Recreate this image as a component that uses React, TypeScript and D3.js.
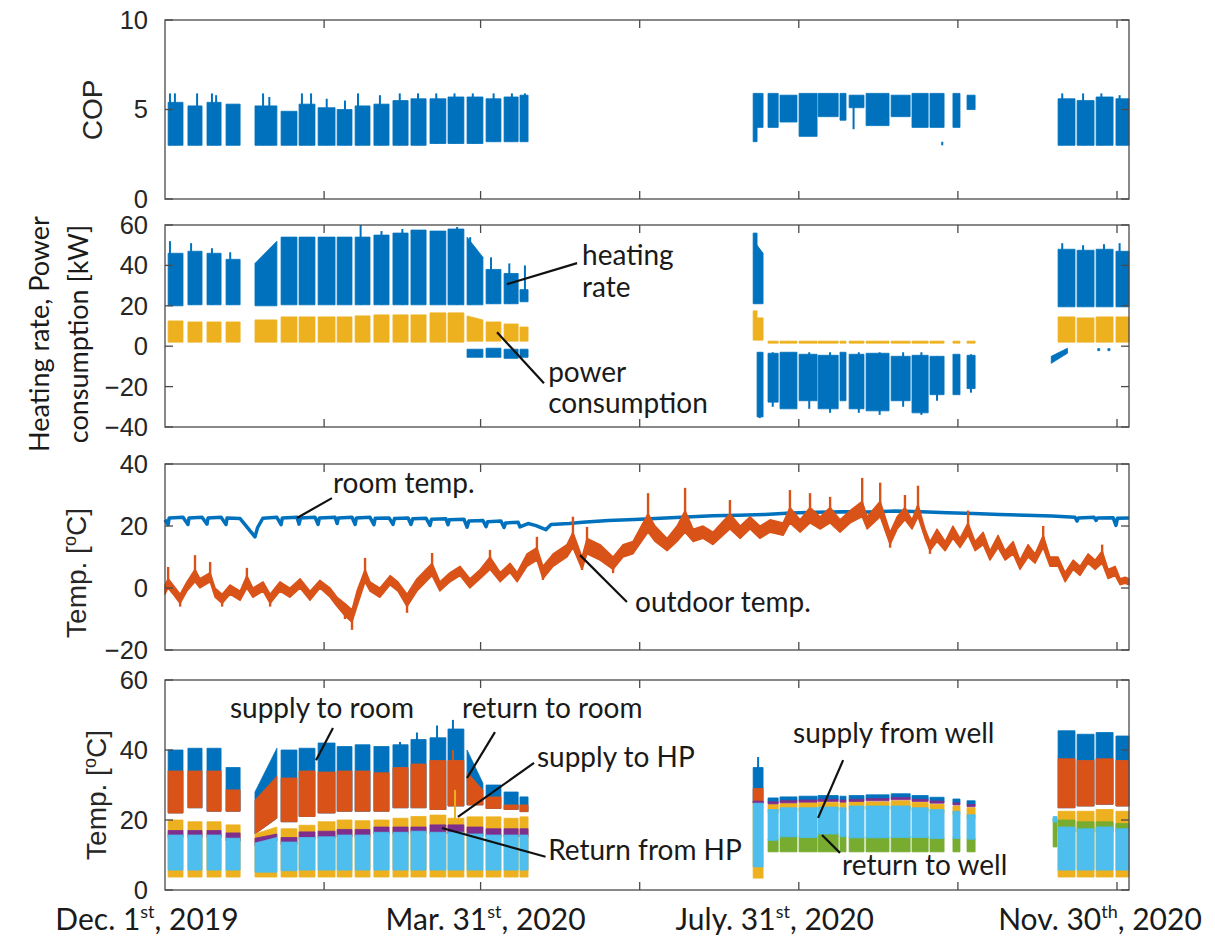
import React from 'react';
import * as d3 from 'd3';

type V = number | [number, number];
type Pair = [V, V];
type Block = [number, number, V, V];
type Spike = [number, number, number];

const T0 = Date.UTC(2019, 11, 1);
const toDate = (d: number) => new Date(T0 + d * 864e5);

// operating periods, in days after Dec 1 2019
const winterDays: [number, number][] = [
  [1.2, 6.9], [8.8, 14.2], [16.1, 21.5], [23.4, 28.8], [34.5, 42.9], [44.5, 50.6], [51.4, 57.5],
  [58.7, 65.2], [66.0, 71.7], [72.9, 78.6], [80.1, 85.9], [87.4, 93.2], [94.3, 100.1],
  [101.6, 107.7], [108.5, 114.6], [115.8, 121.9], [123.1, 128.8], [130.0, 135.4], [136.1, 139.2],
];
const summerDays: [number, number][] = [
  [225.5, 227.0], [227.0, 229.3], [231.2, 235.1], [235.8, 242.3], [243.1, 250.0], [250.4, 258.1],
  [258.8, 261.1], [262.3, 268.0], [268.8, 277.6], [278.4, 285.7], [286.4, 292.6], [293.3, 298.7],
  [302.1, 304.8], [307.5, 310.6],
];
const lateDays: [number, number][] = [[342.4, 348.9], [349.7, 356.2], [357.0, 363.5], [364.6, 369.6]];

// COP [lo, hi]
const copWinter: Pair[] = [
  [3.0, 5.4], [3.0, 5.2], [3.0, 5.4], [3.0, 5.3], [3.0, 5.2], [3.0, 4.9], [3.0, 5.3], [3.0, 5.1],
  [3.0, 5.0], [3.0, 5.2], [3.0, 5.3], [3.0, 5.5], [3.0, 5.6], [3.1, 5.6], [3.1, 5.7], [3.1, 5.7],
  [3.2, 5.6], [3.2, 5.7], [3.2, 5.8],
];
const copSummer: Pair[] = [
  [3.2, 5.9], [4.0, 5.9], [4.0, 5.9], [4.3, 5.8], [3.5, 5.9], [4.6, 5.9], [4.4, 5.9], [5.1, 5.8],
  [4.1, 5.9], [4.6, 5.8], [4.0, 5.9], [4.0, 5.9], [4.0, 5.9], [5.0, 5.8],
];
const copLate: Pair[] = [[3.0, 5.6], [3.0, 5.5], [3.0, 5.7], [3.0, 5.6]];
const copSpikes: Spike[] = [
  [1.9, 3.0, 5.9], [3.8, 3.0, 5.9], [12.3, 3.0, 5.9], [18.0, 3.0, 5.9], [19.6, 3.0, 5.8],
  [37.6, 3.0, 5.9], [40.0, 3.0, 5.7], [52.5, 3.0, 5.9], [56.0, 3.0, 5.9], [62, 3.0, 5.6],
  [69, 3.0, 5.5], [74.0, 3.0, 5.9], [82.4, 3.0, 5.8], [90, 3.0, 5.9], [97, 3.0, 5.9],
  [104, 3.1, 5.9], [111, 3.1, 5.9], [118, 3.1, 5.9], [126, 3.2, 5.9], [133, 3.2, 5.9],
  [138, 3.2, 5.9], [264, 3.9, 5.8], [298, 3.0, 3.2], [344, 3.0, 5.9], [352, 3.0, 5.9],
  [359, 3.0, 5.9], [366, 3.0, 5.8],
];

// heating rate, power consumption [kW]
const heatWinter: Pair[] = [
  [20, 46], [20.5, 47], [20.5, 46], [20.5, 43], [20, [41, 52]], [20.5, 54], [20.5, 54], [20.5, 54],
  [20.5, 54], [20.5, 54], [20.5, 55], [20.5, 56], [20.5, 57.5], [20.5, 57], [20.5, 58],
  [20.5, [54, 44]], [21, 38], [21, 36], [22, 28],
];
const heatSummer: Pair[] = [[21, 56], [21, [50, 46]]];
const heatLate: Pair[] = [[19.5, 48], [19.5, 47.5], [19.5, 48], [19.5, 47]];
const heatSpikes: Spike[] = [
  [1.9, 20, 52], [10, 20.5, 51], [18, 20.5, 48.5], [25, 20.5, 46.5], [75, 20.5, 60],
  [83, 20.5, 57], [91, 20.5, 58], [112, 20.5, 59], [117, 20.5, 54], [125, 21, 44],
  [132, 21, 41], [138, 22, 40], [344, 19.5, 51], [352, 19.5, 50], [360, 19.5, 50.5], [366, 19.5, 51],
];
const powerWinter: Pair[] = [
  [2, 12.5], [2, 12], [2, 12], [2, 12], [2, 13], [2, 14.5], [2, 14.5], [2, 14.5], [2, 14.5],
  [2, 15], [2, 15.5], [2, 15.5], [2, 15.5], [2, 16.5], [2, 16.5], [2.5, [15, 13]], [2.5, 12],
  [2.5, 11], [2.5, 9.5],
];
const powerSummer: Pair[] = [
  [3, 17.5], [3, 14], [1.5, 2.5], [1.5, 2.5], [1.5, 2.5], [1.5, 2.5], [1.5, 2.5], [1.5, 2.5],
  [1.5, 2.5], [1.5, 2.5], [1.5, 2.5], [1.5, 2.5], [1.5, 2.5], [1.5, 2.5],
];
const powerLate: Pair[] = [[2, 14.5], [2, 14], [2, 14.5], [2, 14.5]];
const coolWinter: Pair[] = [[-5.5, -1.5], [-5.5, -1], [-6, -1.5], [-5.5, -1.5]];
const coolSummer: Pair[] = [
  [-35, -3], [-27.7, -3.5], [-31, -3], [-27, -4], [-31, -4.5], [-27, -3], [-31, -4],
  [-32, -3.5], [-27, -5], [-33, -4.5], [-24, -5], [-24, -4], [-21, -4.5],
];
const coolLate: Block[] = [
  [339.8, 346.0, [-8.5, -3.5], [-5, -1]], [357.6, 358.4, -2.2, -1.2], [361.5, 362.3, -2.2, -1.2],
];
const coolSpikes: Spike[] = [
  [228, -3, -35.6], [233, -3, -30], [247, -3, -31], [255, -3, -33], [266, -3, -33],
  [274, -3, -34], [283, -3, -30], [290, -3, -34], [296, -5, -27], [309, -4, -23],
];

// temperatures [degC]
const roomTemp: [number, number][] = [
  [0, 22], [1.2, 20.5], [1.6, 22.6], [6.9, 22.8], [8.8, 20.5], [9.2, 22.6], [14.2, 22.8],
  [16.1, 20.6], [16.5, 22.6], [21.5, 22.8], [23.4, 20.5], [23.8, 22.6], [28.8, 22.4], [34.5, 16.5],
  [35.5, 19.5], [37.5, 22.5], [42.9, 22.8], [44.5, 20.4], [45, 22.6], [50.6, 22.8], [51.4, 20.6],
  [52, 22.6], [57.5, 22.8], [58.7, 20.5], [59.2, 22.6], [65.2, 22.8], [66, 20.8], [66.5, 22.6],
  [71.7, 22.8], [72.9, 20.5], [73.4, 22.6], [78.6, 22.8], [80.1, 20.4], [80.6, 22.5], [85.9, 22.6],
  [87.4, 20.5], [88, 22.4], [93.2, 22.6], [94.3, 20.5], [95, 22.3], [100.1, 22.5], [101.6, 20.2],
  [102.2, 22.2], [107.7, 22.3], [108.5, 20.4], [109, 22], [114.6, 22.2], [115.8, 19.6],
  [116.5, 21.6], [121.9, 21.8], [123.1, 19.8], [123.7, 21.4], [128.8, 21.6], [130, 19.5],
  [130.6, 21.0], [135.4, 21.2], [136.1, 19.7], [139.2, 20.8], [142, 20.2], [146, 18.8],
  [148, 20.5], [155, 20.8], [160, 21.2], [170, 21.8], [180, 22.1], [190, 22.5], [200, 22.9],
  [210, 23.3], [220, 23.5], [230, 23.7], [240, 24.2], [250, 24.4], [260, 24.6], [270, 24.5],
  [280, 24.8], [290, 24.6], [300, 24.3], [310, 24], [320, 23.7], [330, 23.5], [340, 23.2],
  [348.9, 22.8], [349.7, 21.6], [350.2, 22.6], [356.2, 22.8], [357, 21.8], [357.5, 22.6],
  [363.5, 22.7], [364.6, 20.2], [365.2, 22.5], [369.6, 22.6],
];
// outdoor temperature: [day, low, high] of the dense trace, plus its sharpest excursions
const outdoorBand: [number, number, number][] = [
  [0, -2, 1], [1.2, 0, 3], [3.1, -2, 1], [5.8, -5, -2], [8.4, -1, 2], [11.5, 2, 6], [13.4, 0, 3],
  [17.3, 2, 5], [19.2, -3, 0], [21.9, -5, -2], [24.9, -2, 1], [28.8, -4, -1], [31.4, 0, 4],
  [33.7, -3, 0], [37.6, -1, 2], [40.3, -5, -2], [44.1, -1, 2], [47.9, -3, 0], [51.8, 0, 3],
  [55.6, -4, -1], [59.4, 0, 2.5], [63.3, -3, 0], [66.0, -6, -3], [69.0, -9, -5], [71.7, -11, -7],
  [73.6, -6, -1], [76.7, 2, 6], [78.6, -1, 2], [82.4, -3, 0], [86.3, 1, 4], [89.3, -1, 2],
  [92.8, -6, -2], [96.6, -1, 3], [102.4, 4, 8], [105.4, -1, 2], [109.3, 2, 5], [113.1, 4, 7],
  [116.9, 0, 3], [120.8, 3, 6], [124.6, 6, 10], [128.5, 2, 5], [132.3, 5, 8], [135.0, 2, 5],
  [138.8, 7, 11], [142.6, 9, 13], [144.9, 3, 7], [148.8, 7, 11], [154.1, 10, 14], [156.4, 13, 18],
  [159.9, 6, 10], [161.8, 11, 16], [166.8, 9, 14], [171.8, 6, 10], [175.6, 10, 14], [179.4, 11, 15],
  [185.2, 18, 24], [187.9, 15, 20], [192.5, 12, 16], [196.3, 15, 20], [199.4, 18, 25],
  [202.5, 15, 19], [206.3, 16, 20], [210.1, 14, 18], [216.6, 19, 24], [220.5, 16, 20],
  [224.3, 19, 23], [228.1, 16, 20], [232.0, 18, 22], [237.0, 17, 21], [239.6, 21, 26],
  [243.5, 18, 22], [247.3, 21, 26], [251.2, 19, 23], [255.0, 21, 26], [258.8, 18, 22],
  [262.7, 21, 25], [267.3, 23, 28], [269.2, 19, 23], [274.2, 23, 28], [278.0, 14, 18],
  [280.7, 19, 23], [283.7, 22, 26], [286.4, 19, 22], [288.7, 23, 27], [291.4, 16, 19],
  [293.3, 12, 15], [296.0, 15, 19], [299.1, 12, 15], [302.1, 16, 20], [304.8, 13, 16],
  [307.9, 17, 21], [310.6, 12, 15], [313.7, 14, 18], [316.3, 9, 12], [319.4, 13, 17],
  [322.1, 9, 12], [325.2, 11, 15], [327.8, 6, 9], [330.9, 10, 14], [333.6, 8, 11], [336.7, 13, 17],
  [339.3, 7, 10], [342.4, 7, 10], [345.1, 2, 5], [348.2, 6, 9], [350.8, 4, 7], [353.9, 8, 11],
  [356.6, 6, 9], [359.3, 8, 12], [361.6, 3, 6], [364.3, 4, 7], [366.2, 1, 3], [368.1, 1.5, 3.5],
  [369.6, 1, 3],
];
const outdoorSpikes: Spike[] = [
  [1.2, 1, 6.8], [5.8, -6, -2], [11.5, 3, 10.6], [17.3, 3, 8.4], [21.9, -6, -2], [31.4, 1, 6.5],
  [40.3, -6, -2], [69.0, -10, -5], [71.7, -13.5, -8], [76.7, 2, 9.7], [92.8, -8, -3],
  [102.4, 4, 11.3], [124.6, 6, 12.3], [142.6, 9, 16.5], [144.9, 2.6, 7], [156.4, 13, 23],
  [159.9, 5.8, 10], [161.8, 11, 19.7], [171.8, 4.8, 10], [185.2, 18, 30.6], [199.4, 18, 32.3],
  [216.6, 19, 28.4], [239.6, 21, 31.6], [247.3, 21, 30.6], [255.0, 21, 29.4], [267.3, 23, 35.5],
  [274.2, 23, 34], [278.0, 13, 18], [283.7, 22, 30], [288.7, 23, 33], [293.3, 11, 15],
  [307.9, 17, 25], [336.7, 13, 20], [359.3, 8, 14],
];

// water temperatures [degC]
const supplyRoomWinter: Pair[] = [
  [22, 40], [23.5, 40.5], [22.5, 40.5], [22.5, 35], [[16, 20.5], [28, 40.5]], [19.5, 40],
  [21, 40.5], [22, 42], [22.5, 41], [22.5, 41.5], [22.5, 41], [23.5, 41.5], [23.5, 43], [23, 43.5],
  [24, 46], [24.3, [40, 30.5]], [23.3, 30], [23, 28], [22.4, 26.6],
];
const returnRoomWinter: Pair[] = [
  [22, 34], [23.5, 34], [22.5, 34], [22.5, 28.6], [[16, 20.5], [25.7, 32.5]], [19.5, 32], [21, 34],
  [22, 33.7], [22.5, 34], [22.5, 34], [22.5, 33.5], [23.5, 35], [23.5, 36], [23, 37], [24, 37],
  [24.3, [33.7, 28.5]], [23.3, 26.6], [23, 24.3], [22.4, 24.3],
];
const supplyHpWinter: Pair[] = [
  [3.7, 20], [3.7, 19.5], [3.7, 19.5], [3.7, 18.6], [3.7, [16, 18]], [3.7, 17.5], [3.7, 18.5],
  [3.7, 19.5], [3.7, 20], [3.7, 19.8], [3.7, 20], [3.7, 20.5], [3.7, 21], [3.7, 21.4], [3.7, 20.5],
  [3.7, 20.9], [3.7, 20.9], [3.7, 20.5], [3.7, 20.9],
];
const returnHpWinter: Pair[] = [
  [15, 17], [15, 17], [15, 17], [14, 16.3], [[12.5, 14], [14.8, 16]], [13, 15], [14.5, 16.6],
  [14.8, 16.8], [15.2, 17.3], [15.2, 17.3], [16, 18], [16, 18], [16.3, 18], [16, 18.6], [16, 18.6],
  [15.5, 18], [15.2, 17.5], [15.2, 17.5], [15.2, 17.5],
];
const wellWinter: Pair[] = [
  [5.7, 15.7], [5.7, 15.7], [5.7, 15.7], [5.7, 14.8], [5.1, [13.4, 15]], [5.5, 13.7], [5.7, 15],
  [5.7, 15.2], [5.7, 15.7], [5.7, 15.7], [5.7, 16.5], [5.7, 16.5], [5.7, 16.8], [5.7, 16.5],
  [5.7, 16.5], [5.7, 16], [5.7, 15.7], [5.7, 15.7], [5.7, 15.7],
];
const supplyRoomSummer: Pair[] = [
  [24.8, 35], [24.8, 35], [25.1, 26.3], [25.4, 26.6], [25.6, 26.8], [25.8, 27], [25.6, 26.8],
  [25.8, 27], [26, 27.2], [26.3, 27.5], [25.8, 27], [25.3, 26.5], [24.8, 26], [24.3, 25.5],
];
const returnRoomSummer: Pair[] = [[24.8, 29], [24.8, 29]];
const supplyHpSummer: Pair[] = [
  [3.4, 24.8], [3.4, 24.8], [22, 24.5], [22.5, 24.8], [22.5, 25], [22.7, 25], [22.5, 25],
  [23, 25.3], [23, 25.2], [23, 25.5], [22.5, 25], [22, 24.5], [21.5, 24], [20.5, 23.5],
];
const returnHpSummer: Pair[] = [
  [24.8, 25.4], [24.8, 25.4], [24.6, 25.2], [24.9, 25.5], [25.1, 25.7], [25.3, 25.9], [25.1, 25.7],
  [25.3, 25.9], [25.5, 26.1], [25.8, 26.4], [25.3, 25.9], [24.8, 25.4], [24.3, 24.9], [23.8, 24.4],
];
const returnWellSummer: Pair[] = [
  [10.9, 14.5], [10.9, 15.5], [10.9, 15.3], [10.9, 16.3], [10.9, 15.5], [10.9, 15.2], [10.9, 15.2],
  [10.9, 15.3], [10.9, 15.3], [10.9, 15], [10.9, 15], [10.9, 14.8],
];
const wellSummer: Pair[] = [
  [6.6, 24.8], [6.6, 24.8], [14.2, 23], [15.2, 23.5], [15, 23.5], [16, 23.7], [15.2, 23.5],
  [14.9, 24], [14.9, 24], [15, 24], [15, 23.5], [14.7, 23], [14.7, 22.5], [14.5, 21.5],
];
const supplyRoomLate: Pair[] = [[23.5, 45.5], [24, 44.5], [24.5, 45], [24, 44]];
const returnRoomLate: Pair[] = [[23.5, 37.5], [24, 37], [24.5, 37.5], [24, 37]];
const supplyHpLate: Pair[] = [[3.7, 22.5], [3.7, 22.5], [3.7, 23], [3.7, 22.5]];
const returnWellLate: Pair[] = [[16.5, 20], [16.5, 19.5], [16.5, 19.5], [16.5, 19]];
const wellLate: Pair[] = [[5.7, 18], [5.7, 17.5], [5.7, 18], [5.7, 17.5]];
const returnWellExtra: Block[] = [[340.5, 342.0, 12.3, 20.5]];
const wellExtra: Block[] = [[340.5, 342.0, 19.4, 21]];
const supplyRoomSpikes: Spike[] = [
  [90.1, 38, 42.3], [96.6, 40, 45], [104.3, 40, 47], [110.4, 42, 48.6], [227.4, 30, 38],
];
const returnRoomSpikes: Spike[] = [[110.4, 30, 40]];
const supplyHpSpikes: Spike[] = [[111.2, 18, 28.6]];

const xTickDays = ['2020-01-31', '2020-03-31', '2020-05-31', '2020-07-31', '2020-09-30', '2020-11-30'];
const dateLabels = [
  { day: '2019-12-01', main: 'Dec. 1', sup: 'st', tail: ', 2019', dx: -18 },
  { day: '2020-03-31', main: 'Mar. 31', sup: 'st', tail: ', 2020', dx: 5 },
  { day: '2020-07-31', main: 'July. 31', sup: 'st', tail: ', 2020', dx: -24 },
  { day: '2020-11-30', main: 'Nov. 30', sup: 'th', tail: ', 2020', dx: -17 },
];

const C = {
  blue: '#0072BD', orange: '#D95319', yellow: '#EDB120', purple: '#7E2F8E',
  green: '#77AC30', cyan: '#4DBEEE',
};

const zip = (days: [number, number][], vals: Pair[]): Block[] =>
  vals.map((v, i) => [days[i][0], days[i][1], v[0], v[1]]);

const panels = [
  { top: 20, bottom: 199, domain: [0, 10], ticks: [0, 5, 10] },
  { top: 225, bottom: 427, domain: [-40, 60], ticks: [-40, -20, 0, 20, 40, 60] },
  { top: 464, bottom: 650, domain: [-20, 40], ticks: [-20, 0, 20, 40] },
  { top: 680, bottom: 890, domain: [0, 60], ticks: [0, 20, 40, 60] },
];

const bandSeries = [
  [
    { color: C.blue, blocks: [...zip(winterDays, copWinter), ...zip(summerDays, copSummer), ...zip(lateDays, copLate)], spikes: copSpikes },
  ],
  [
    { color: C.blue, blocks: [...zip(winterDays, heatWinter), ...zip(summerDays, heatSummer), ...zip(lateDays, heatLate)], spikes: heatSpikes },
    { color: C.yellow, blocks: [...zip(winterDays, powerWinter), ...zip(summerDays, powerSummer), ...zip(lateDays, powerLate)], spikes: [] },
    { color: C.blue, blocks: [...zip(winterDays.slice(15), coolWinter), ...zip(summerDays.slice(1), coolSummer), ...coolLate], spikes: coolSpikes },
  ],
  [],
  [
    { color: C.blue, blocks: [...zip(winterDays, supplyRoomWinter), ...zip(summerDays, supplyRoomSummer), ...zip(lateDays, supplyRoomLate)], spikes: supplyRoomSpikes },
    { color: C.orange, blocks: [...zip(winterDays, returnRoomWinter), ...zip(summerDays, returnRoomSummer), ...zip(lateDays, returnRoomLate)], spikes: returnRoomSpikes },
    { color: C.yellow, blocks: [...zip(winterDays, supplyHpWinter), ...zip(summerDays, supplyHpSummer), ...zip(lateDays, supplyHpLate)], spikes: supplyHpSpikes },
    { color: C.purple, blocks: [...zip(winterDays, returnHpWinter), ...zip(summerDays, returnHpSummer)], spikes: [] },
    { color: C.green, blocks: [...zip(summerDays.slice(2), returnWellSummer), ...zip(lateDays, returnWellLate), ...returnWellExtra], spikes: [] },
    { color: C.cyan, blocks: [...zip(winterDays, wellWinter), ...zip(summerDays, wellSummer), ...zip(lateDays, wellLate), ...wellExtra], spikes: [] },
  ],
];

// annotation texts and leader lines, in data coordinates (day, value)
const annotations = [
  { panel: 1, lines: ['heating', 'rate'], at: [159.9, 40.1], gap: 32, from: [158, 41.1], to: [131.1, 30.7] },
  { panel: 1, lines: ['power', 'consumption'], at: [146.9, -17.8], gap: 31, from: [145.3, -18.3], to: [127.3, 6.9] },
  { panel: 2, lines: ['room temp.'], at: [64.4, 30.6], gap: 0, from: [64, 29], to: [50.6, 22.6] },
  { panel: 2, lines: ['outdoor temp.'], at: [180.2, -7.7], gap: 0, from: [177.1, -4.5], to: [159.1, 10.6] },
  { panel: 3, lines: ['supply to room'], at: [24.9, 49.1], gap: 0, from: [64.4, 46.3], to: [57.9, 37.1] },
  { panel: 3, lines: ['return to room'], at: [113.9, 49.1], gap: 0, from: [126.5, 45.1], to: [115.8, 32] },
  { panel: 3, lines: ['supply to HP'], at: [142.6, 35.1], gap: 0, from: [141.5, 36.3], to: [112.3, 20.9] },
  { panel: 3, lines: ['Return from HP'], at: [146.9, 8.6], gap: 0, from: [145.9, 9.5], to: [106.2, 17.7] },
  { panel: 3, lines: ['supply from well'], at: [240.8, 42], gap: 0, from: [260, 37.1], to: [250.4, 20.6] },
  { panel: 3, lines: ['return to well'], at: [259.6, 4.3], gap: 0, from: [258.8, 10.6], to: [251.9, 15.7] },
];

const W = 1215;
const H = 937;
const X0 = 165;
const X1 = 1129;
const AX = '#4a4a4a';
const TICK_FONT = '"Liberation Sans", Arial, sans-serif';
const TEXT_FONT = 'Lato, "Open Sans", sans-serif';

export default function App() {
  const x = d3.scaleUtc().domain([toDate(0), toDate(369.6)]).range([X0, X1]);
  const ys = panels.map(p => d3.scaleLinear().domain(p.domain).range([p.bottom, p.top]));
  const fmt = d3.format('d');

  const blockPath = (y: d3.ScaleLinear<number, number>, b: Block) => {
    const lo = Array.isArray(b[2]) ? b[2] : [b[2], b[2]];
    const hi = Array.isArray(b[3]) ? b[3] : [b[3], b[3]];
    const area = d3.area<[number, number, number]>()
      .x(p => x(toDate(p[0])))
      .y0(p => y(p[1]))
      .y1(p => y(p[2]));
    return area([[b[0], lo[0], hi[0]], [b[1], lo[1], hi[1]]]) || '';
  };

  const tempLine = d3.line<[number, number]>()
    .x(p => x(toDate(p[0])))
    .y(p => ys[2](p[1]));
  const outdoorArea = d3.area<[number, number, number]>()
    .x(p => x(toDate(p[0])))
    .y0(p => ys[2](p[1]))
    .y1(p => ys[2](p[2]));

  return (
    <svg width={W} height={H} style={{ position: 'absolute', left: 0, top: 0, background: '#fff' }}>
      {panels.map((p, i) => {
        const y = ys[i];
        return (
          <g key={i}>
            {bandSeries[i].map((s, j) => (
              <g key={j} fill={s.color} stroke={s.color}>
                {s.blocks.map((b, k) => (
                  <path key={k} d={blockPath(y, b)} strokeWidth={0.8} />
                ))}
                {s.spikes.map((sp, k) => (
                  <line key={'s' + k} x1={x(toDate(sp[0]))} x2={x(toDate(sp[0]))} y1={y(sp[1])} y2={y(sp[2])} strokeWidth={2} />
                ))}
              </g>
            ))}
            {i === 2 && (
              <g>
                <path d={tempLine(roomTemp) || ''} fill="none" stroke={C.blue} strokeWidth={3.5} strokeLinejoin="round" />
                <g fill={C.orange} stroke={C.orange}>
                  <path d={outdoorArea(outdoorBand) || ''} strokeWidth={1.4} strokeLinejoin="round" />
                  {outdoorSpikes.map((sp, k) => (
                    <line key={k} x1={x(toDate(sp[0]))} x2={x(toDate(sp[0]))} y1={y(sp[1])} y2={y(sp[2])} strokeWidth={2.4} />
                  ))}
                </g>
              </g>
            )}
            <rect x={X0} y={p.top} width={X1 - X0} height={p.bottom - p.top} fill="none" stroke={AX} strokeWidth={1.3} />
            {xTickDays.map(d => {
              const tx = x(new Date(d + 'T00:00:00Z'));
              return (
                <g key={d} stroke={AX} strokeWidth={1.3}>
                  <line x1={tx} x2={tx} y1={p.bottom} y2={p.bottom - 8} />
                  <line x1={tx} x2={tx} y1={p.top} y2={p.top + 8} />
                </g>
              );
            })}
            {p.ticks.map(t => (
              <g key={t}>
                <line x1={X0} x2={X0 + 8} y1={y(t)} y2={y(t)} stroke={AX} strokeWidth={1.3} />
                <line x1={X1} x2={X1 - 8} y1={y(t)} y2={y(t)} stroke={AX} strokeWidth={1.3} />
                <text x={148} y={y(t)} dy="0.35em" textAnchor="end" fontFamily={TICK_FONT} fontSize={25.5} fill="#262626">
                  {fmt(t)}
                </text>
              </g>
            ))}
          </g>
        );
      })}

      {/* y axis labels */}
      <text transform="translate(102,110) rotate(-90)" textAnchor="middle" fontFamily={TICK_FONT} fontSize={28} fill="#262626">COP</text>
      <g fontFamily={TEXT_FONT} fontSize={27} fill="#1a1a1a" textAnchor="middle">
        <text transform="translate(49,334) rotate(-90)">Heating rate, Power</text>
        <text transform="translate(88,334) rotate(-90)">consumption [kW]</text>
      </g>
      {[{ tx: 86, ty: 573 }, { tx: 106, ty: 795 }].map((l, i) => (
        <text key={i} transform={`translate(${l.tx},${l.ty}) rotate(-90)`} textAnchor="middle" fontFamily={TICK_FONT} fontSize={28} fill="#262626">
          Temp. [<tspan dy={-10} fontSize={18}>o</tspan><tspan dy={10}>C]</tspan>
        </text>
      ))}

      {/* annotations */}
      {annotations.map((a, i) => {
        const y = ys[a.panel];
        return (
          <g key={i}>
            <line x1={x(toDate(a.from[0]))} y1={y(a.from[1])} x2={x(toDate(a.to[0]))} y2={y(a.to[1])} stroke="#111" strokeWidth={2.2} />
            {a.lines.map((t, k) => (
              <text key={k} x={x(toDate(a.at[0]))} y={y(a.at[1]) + k * a.gap} fontFamily={TEXT_FONT} fontSize={28} fill="#1a1a1a">{t}</text>
            ))}
          </g>
        );
      })}

      {/* date labels */}
      {dateLabels.map(l => (
        <text key={l.day} x={x(new Date(l.day + 'T00:00:00Z')) + l.dx} y={930} textAnchor="middle" fontFamily={TEXT_FONT} fontSize={30} fill="#1a1a1a">
          {l.main}<tspan dy={-12} fontSize={18}>{l.sup}</tspan><tspan dy={12}>{l.tail}</tspan>
        </text>
      ))}
    </svg>
  );
}
